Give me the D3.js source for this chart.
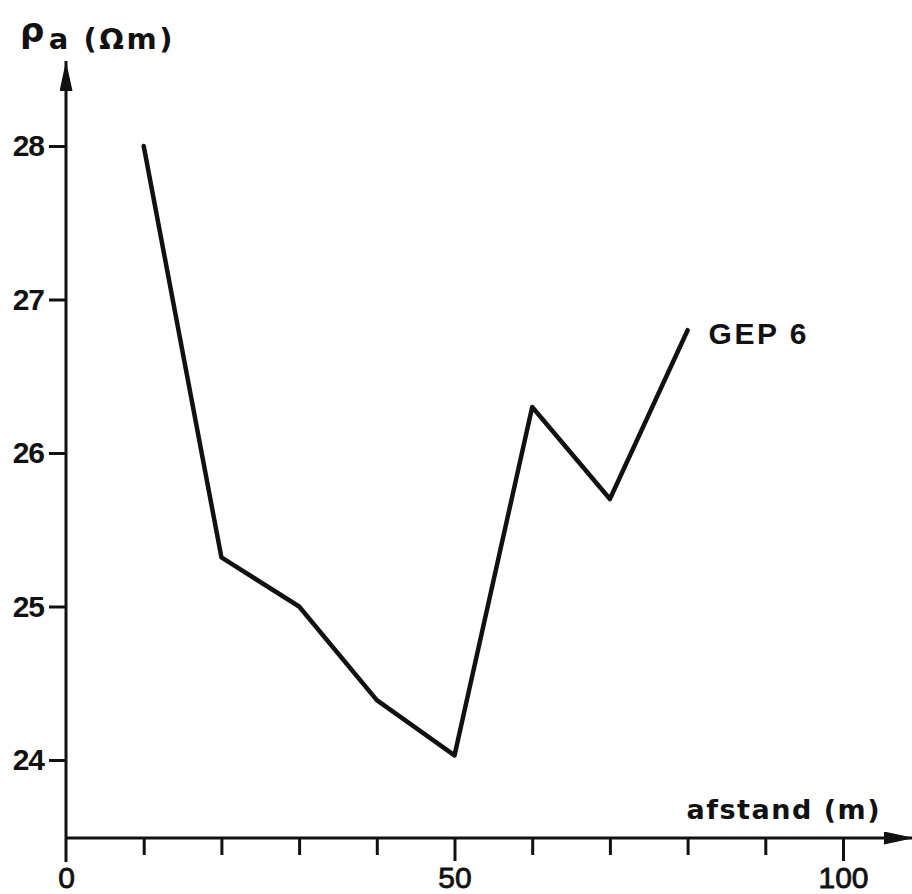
<!DOCTYPE html>
<html>
<head>
<meta charset="utf-8">
<script src="https://cdn.jsdelivr.net/npm/d3@7"></script>
<style>
  html, body { margin: 0; padding: 0; background: #fff; }
  svg { display: block; }
  text { fill: #111; }
</style>
</head>
<body>
<svg id="chart" width="912" height="894"></svg>
<script>
// Apparent resistivity profile GEP 6
const distances = [10, 20, 30, 40, 50, 60, 70, 80];
const resistivity = [28.0, 25.32, 25.0, 24.39, 24.03, 26.3, 25.7, 26.8];
const yTicks = [24, 25, 26, 27, 28];
const xTicks = [0, 10, 20, 30, 40, 50, 60, 70, 80, 90, 100];
const xTickLabels = [0, 50, 100];
const seriesName = "GEP 6";

const svg = d3.select("#chart");
const ink = "#111";

const x = d3.scaleLinear().domain([0, 100]).range([66, 843]);
const y = d3.scaleLinear().domain([24, 28]).range([760, 146]);

const x0 = x(0);
const yBase = 838;

// arrowheads: long narrow triangles
const defs = svg.append("defs");
defs.append("marker")
  .attr("id", "arrow")
  .attr("viewBox", "0 0 30 13")
  .attr("preserveAspectRatio", "none")
  .attr("refX", 30).attr("refY", 6.5)
  .attr("markerUnits", "userSpaceOnUse")
  .attr("markerWidth", 30).attr("markerHeight", 13)
  .attr("orient", "auto")
  .append("path")
  .attr("d", "M0,0 L30,6.5 L0,13 Z")
  .attr("fill", ink);

// vertical axis line with arrow
svg.append("line")
  .attr("x1", x0).attr("y1", 862)
  .attr("x2", x0).attr("y2", 61)
  .attr("stroke", ink).attr("stroke-width", 3)
  .attr("marker-end", "url(#arrow)");

// horizontal axis line with arrow
svg.append("line")
  .attr("x1", x0).attr("y1", yBase)
  .attr("x2", 914).attr("y2", yBase)
  .attr("stroke", ink).attr("stroke-width", 3)
  .attr("marker-end", "url(#arrow)");

// y axis ticks and labels
const yAxis = d3.axisLeft(y).tickValues(yTicks).tickSize(17).tickPadding(5).tickFormat(d3.format("d"));
const gy = svg.append("g").attr("transform", `translate(${x0},0)`).call(yAxis);
gy.select(".domain").remove();
gy.selectAll(".tick line").attr("stroke", ink).attr("stroke-width", 3);
gy.selectAll(".tick text")
  .attr("font-family", "'Liberation Sans', Arial, sans-serif")
  .attr("font-weight", "bold")
  .attr("font-size", 30)
  .attr("letter-spacing", -1)
  .attr("fill", ink);

// x axis ticks and labels
const xAxis = d3.axisBottom(x).tickValues(xTicks).tickSize(17).tickPadding(8)
  .tickFormat(d => xTickLabels.includes(d) ? d : "");
const gx = svg.append("g").attr("transform", `translate(0,${yBase})`).call(xAxis);
gx.select(".domain").remove();
gx.selectAll(".tick line")
  .attr("stroke", ink).attr("stroke-width", 3)
  .attr("y2", d => (d === 50 || d === 100) ? 23 : 17)
  .attr("display", d => d === 0 ? "none" : null);
gx.selectAll(".tick text")
  .attr("font-family", "'Liberation Sans', Arial, sans-serif")
  .attr("font-size", 30)
  .attr("stroke", ink)
  .attr("stroke-width", 0.8)
  .attr("fill", ink)
  .attr("y", 29);

// profile line
const line = d3.line()
  .x((d, i) => x(distances[i]))
  .y(d => y(d));
svg.append("path")
  .datum(resistivity)
  .attr("d", line)
  .attr("fill", "none")
  .attr("stroke", ink)
  .attr("stroke-width", 4.5)
  .attr("stroke-linejoin", "round")
  .attr("stroke-linecap", "round");

// series label
const last = resistivity.length - 1;
svg.append("text")
  .attr("x", x(distances[last]) + 21)
  .attr("y", y(resistivity[last]) + 14)
  .attr("font-family", "'Liberation Sans', Arial, sans-serif")
  .attr("font-weight", "bold")
  .attr("font-size", 30)
  .attr("letter-spacing", 2.5)
  .text(seriesName);

// axis titles
svg.append("text")
  .attr("x", 881)
  .attr("y", 819)
  .attr("text-anchor", "end")
  .attr("font-family", "'DejaVu Sans', sans-serif")
  .attr("font-weight", "bold")
  .attr("font-size", 27)
  .attr("letter-spacing", 1.5)
  .text("afstand (m)");

const yt = svg.append("text")
  .attr("x", 20)
  .attr("y", 49)
  .attr("font-family", "'DejaVu Sans', sans-serif")
  .attr("font-weight", "bold")
  .attr("font-size", 29)
  .attr("letter-spacing", 2.5);
yt.append("tspan").attr("font-size", 34).attr("dy", -7).text("ρ");
yt.append("tspan").attr("dy", 7).attr("dx", 2).text("a (Ωm)");
</script>
</body>
</html>
